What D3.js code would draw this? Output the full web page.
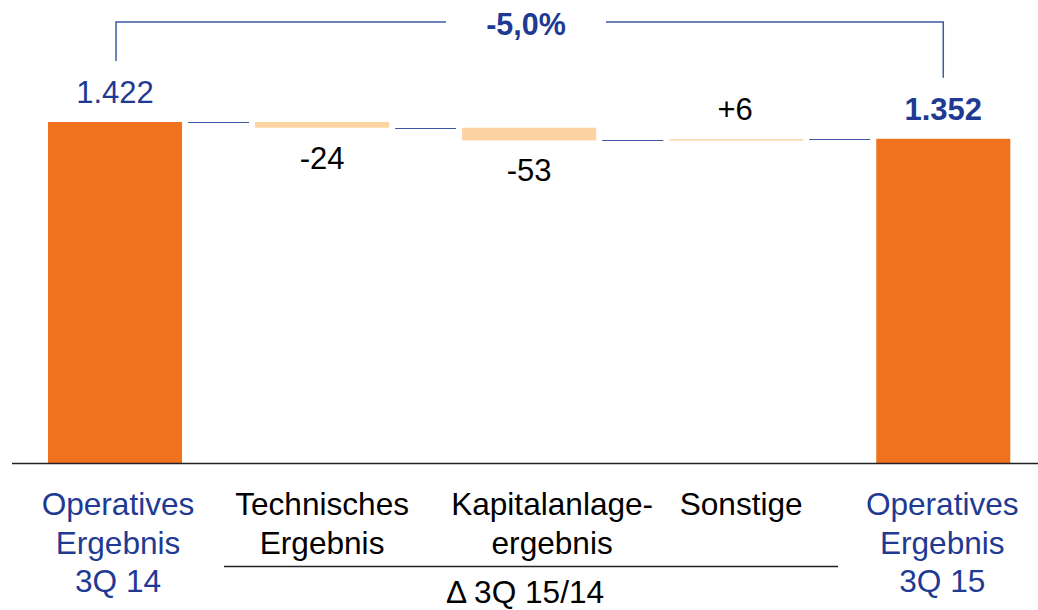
<!DOCTYPE html>
<html>
<head lang="de">
    <meta charset="UTF-8">
    <title></title>
    <script src="https://cdnjs.cloudflare.com/ajax/libs/d3/7.8.5/d3.min.js"></script>
    <style>
        body { margin: 0; background: #fff; }
        text { font-family: "Liberation Sans", Arial, sans-serif; }
    </style>
</head>
<body>

<script>

    // data
    var categories = ["start", "tech", "kap", "sonst", "end"];
    var values = [1422, -24, -53, 6, 1352];
    var valueLabels = ["1.422", "-24", "-53", "+6", "1.352"];
    var catLabels = [
        ["Operatives", "Ergebnis", "3Q 14"],
        ["Technisches", "Ergebnis"],
        ["Kapitalanlage-", "ergebnis"],
        ["Sonstige"],
        ["Operatives", "Ergebnis", "3Q 15"]
    ];
    var isTotal = [true, false, false, false, true];
    var changeLabel = "-5,0%";
    var groupLabel = "\u0394 3Q 15/14";

    var width = 1038, height = 610;
    var orange = "#f0711e", peach = "#fdd3a2", blue = "#1f3a93", lineBlue = "#3d5aa3";

    var svg = d3.select("body").append("svg")
            .attr("width", width)
            .attr("height", height);

    var x = d3.scaleBand()
            .domain(categories)
            .range([11.5, 1046.8])
            .paddingInner(0.3527)
            .paddingOuter(0.3527 / 2);

    var y = d3.scaleLinear()
            .domain([0, 1422])
            .range([463, 122]);

    // running totals -> start/end of each bar
    var run = 0;
    var bars = values.map(function(v, i){
        var b;
        if (isTotal[i]) { b = {y0: 0, y1: v}; run = v; }
        else { b = {y0: run, y1: run + v}; run += v; }
        b.cat = categories[i]; b.v = v; b.i = i;
        return b;
    });

    svg.selectAll("rect.bar")
            .data(bars)
            .enter()
            .append("rect")
            .attr("x", function(d){ return x(d.cat); })
            .attr("width", x.bandwidth())
            .attr("y", function(d){ return y(Math.max(d.y0, d.y1)); })
            .attr("height", function(d){ return Math.abs(y(d.y0) - y(d.y1)); })
            .attr("fill", function(d){ return isTotal[d.i] ? orange : peach; });

    // connectors between bars
    svg.selectAll("line.conn")
            .data(bars.slice(0, -1))
            .enter()
            .append("line")
            .attr("x1", function(d){ return x(d.cat) + x.bandwidth() + 6; })
            .attr("x2", function(d, i){ return x(categories[i + 1]) - 6; })
            .attr("y1", function(d){ return Math.round(y(d.y1)) + 0.5; })
            .attr("y2", function(d){ return Math.round(y(d.y1)) + 0.5; })
            .attr("stroke", lineBlue)
            .attr("stroke-width", 1);

    // baseline
    svg.append("line")
            .attr("x1", 12).attr("x2", width)
            .attr("y1", y(0) + 0.5).attr("y2", y(0) + 0.5)
            .attr("stroke", "#222").attr("stroke-width", 1.3);

    // value labels
    svg.selectAll("text.val")
            .data(bars)
            .enter()
            .append("text")
            .attr("x", function(d){ return x(d.cat) + x.bandwidth() / 2 + (d.i == 3 ? -1 : 0); })
            .attr("y", function(d){
                if (d.v < 0) return y(d.y1) + 41;
                return y(Math.max(d.y0, d.y1)) - 19;
            })
            .attr("text-anchor", "middle")
            .attr("font-size", 31)
            .attr("font-weight", function(d){ return d.i == 4 ? "bold" : "normal"; })
            .attr("fill", function(d){ return isTotal[d.i] ? blue : "#000"; })
            .text(function(d, i){ return valueLabels[i]; });

    // category labels
    var labelOffsets = [3, 0, 23, 5, -1];
    catLabels.forEach(function(lines, i){
        var t = svg.append("text")
                .attr("text-anchor", "middle")
                .attr("font-size", 31.6)
                .attr("fill", isTotal[i] ? blue : "#000")
                .attr("x", x(categories[i]) + x.bandwidth() / 2 + labelOffsets[i])
                .attr("y", 515);
        lines.forEach(function(l, j){
            t.append("tspan")
                    .attr("x", x(categories[i]) + x.bandwidth() / 2 + labelOffsets[i])
                    .attr("y", 515 + j * 38.5)
                    .text(l);
        });
    });

    // group line + label
    svg.append("line")
            .attr("x1", 224).attr("x2", 838)
            .attr("y1", 566.5).attr("y2", 566.5)
            .attr("stroke", "#222").attr("stroke-width", 1.3);
    svg.append("text")
            .attr("x", 525).attr("y", 603)
            .attr("text-anchor", "middle")
            .attr("font-size", 31.6)
            .attr("fill", "#000")
            .text(groupLabel);

    // change bracket
    var cx0 = x(categories[0]) + x.bandwidth() / 2 + 1;
    var cx1 = x(categories[4]) + x.bandwidth() / 2;
    var topY = 22;
    svg.append("path")
            .attr("d", "M" + cx0 + "," + (y(values[0]) - 61) + "V" + topY + "H446")
            .attr("fill", "none").attr("stroke", lineBlue).attr("stroke-width", 1.5);
    svg.append("path")
            .attr("d", "M606," + topY + "H" + cx1 + "V" + (y(values[4]) - 61))
            .attr("fill", "none").attr("stroke", lineBlue).attr("stroke-width", 1.5);
    svg.append("text")
            .attr("x", 526).attr("y", 35)
            .attr("text-anchor", "middle")
            .attr("font-size", 30.5)
            .attr("font-weight", "bold")
            .attr("fill", blue)
            .text(changeLabel);

</script>

</body>
</html>
